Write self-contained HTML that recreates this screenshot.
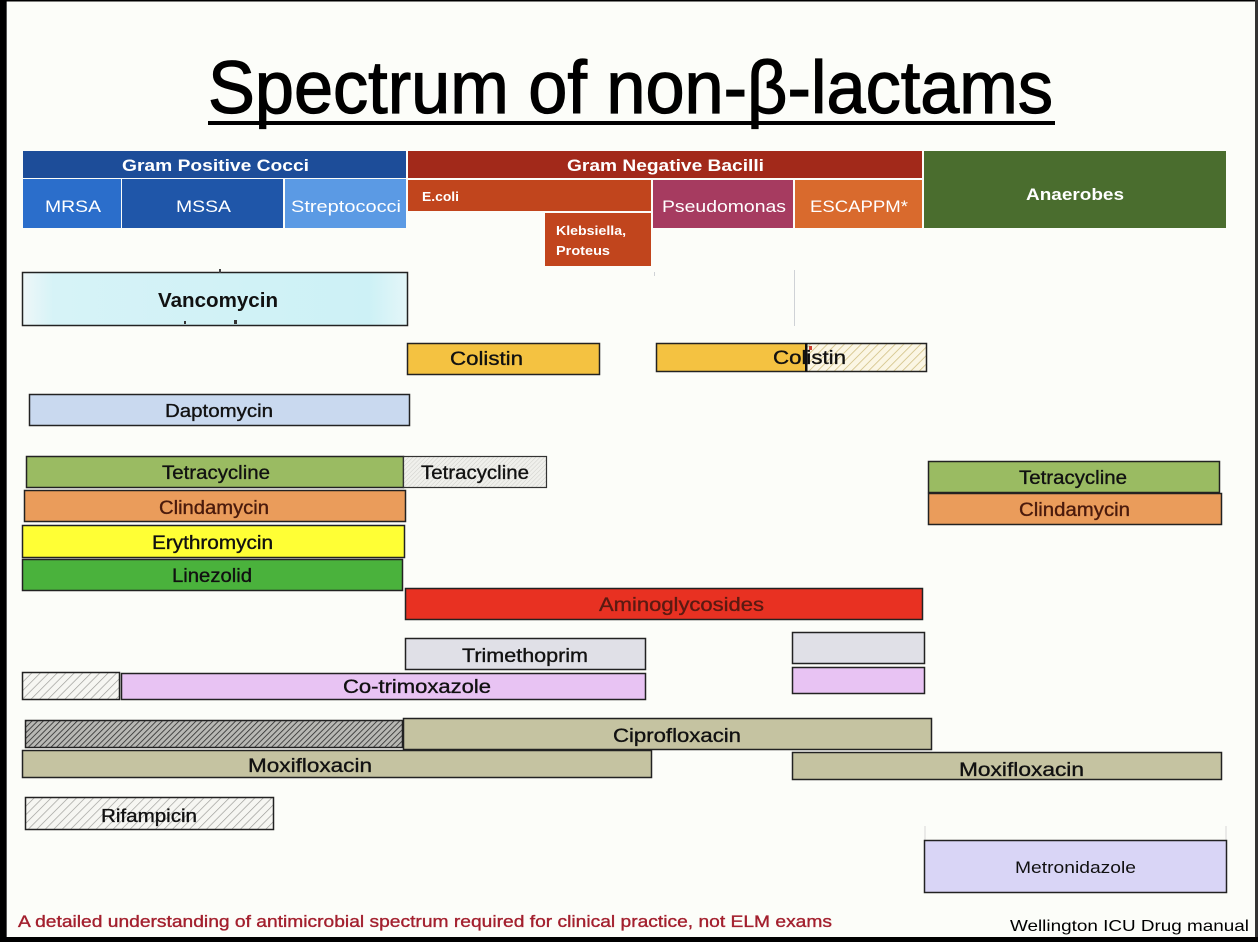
<!DOCTYPE html>
<html><head><meta charset="utf-8"><style>
html,body{margin:0;padding:0;background:#fcfdf9;}
svg{display:block;}
text{font-family:"Liberation Sans",Arial,sans-serif;}
.lbl{stroke:currentColor;stroke-width:0.35;}
</style></head><body>
<svg width="1258" height="942" viewBox="0 0 1258 942" xmlns="http://www.w3.org/2000/svg">
<defs>
<pattern id="hLight" patternUnits="userSpaceOnUse" width="6" height="6" patternTransform="rotate(45)">
<rect width="6" height="6" fill="#f6f6f2"/><line x1="0" y1="0" x2="0" y2="6" stroke="#9a9a96" stroke-width="1.3"/></pattern>
<pattern id="hDark" patternUnits="userSpaceOnUse" width="4" height="4" patternTransform="rotate(45)">
<rect width="4" height="4" fill="#b8b8b4"/><line x1="0" y1="0" x2="0" y2="4" stroke="#2a2a2a" stroke-width="1.6"/></pattern>
<pattern id="hFine" patternUnits="userSpaceOnUse" width="3" height="3" patternTransform="rotate(45)">
<rect width="3" height="3" fill="#f0f0ec"/><line x1="0" y1="0" x2="0" y2="3" stroke="#cfcfca" stroke-width="1"/></pattern>
<pattern id="hYel" patternUnits="userSpaceOnUse" width="6" height="6" patternTransform="rotate(45)">
<rect width="6" height="6" fill="#fbf6e4"/><line x1="0" y1="0" x2="0" y2="6" stroke="#cdbb7a" stroke-width="1.5"/></pattern>
<linearGradient id="vanc" x1="0" x2="1" y1="0" y2="0">
<stop offset="0" stop-color="#eef7f8"/><stop offset="0.08" stop-color="#d6f3f7"/><stop offset="0.9" stop-color="#cdf1f6"/><stop offset="1" stop-color="#e4f6f8"/></linearGradient>
</defs>

<rect x="0" y="0" width="1258" height="942" fill="#fcfdf9"/>

<!-- Title -->
<text x="208" y="113" font-size="74" fill="#000" stroke="#000" stroke-width="1.2" textLength="845" lengthAdjust="spacingAndGlyphs">Spectrum of non-β-lactams</text>
<rect x="208" y="121" width="847" height="4" fill="#000"/>

<!-- Header -->
<rect x="23" y="151" width="383" height="27" fill="#1d4d99"/>
<text x="122" y="171" font-size="17" font-weight="bold" fill="#fff" textLength="187" lengthAdjust="spacingAndGlyphs">Gram Positive Cocci</text>
<rect x="23" y="179" width="98" height="49" fill="#2b6ecb"/>
<rect x="122" y="179" width="161" height="49" fill="#1f56a9"/>
<rect x="285" y="179" width="121" height="49" fill="#5b9ae4"/>
<text x="45" y="212" font-size="17" fill="#fff" textLength="56" lengthAdjust="spacingAndGlyphs">MRSA</text>
<text x="176" y="212" font-size="17" fill="#fff" textLength="55" lengthAdjust="spacingAndGlyphs">MSSA</text>
<text x="291" y="212" font-size="17" fill="#fff" textLength="110" lengthAdjust="spacingAndGlyphs">Streptococci</text>

<rect x="408" y="151" width="514" height="27" fill="#a2291a"/>
<text x="567" y="171" font-size="17" font-weight="bold" fill="#fff" textLength="197" lengthAdjust="spacingAndGlyphs">Gram Negative Bacilli</text>
<rect x="408" y="180" width="243" height="31" fill="#c1451d"/>
<text x="422" y="201" font-size="13" font-weight="bold" fill="#fff" textLength="37" lengthAdjust="spacingAndGlyphs">E.coli</text>
<rect x="545" y="213" width="106" height="53" fill="#c1451d"/>
<text x="556" y="235" font-size="13" font-weight="bold" fill="#fff" textLength="70" lengthAdjust="spacingAndGlyphs">Klebsiella,</text>
<text x="556" y="255" font-size="13" font-weight="bold" fill="#fff" textLength="54" lengthAdjust="spacingAndGlyphs">Proteus</text>
<rect x="653" y="180" width="140" height="48" fill="#a63b60"/>
<text x="662" y="212" font-size="17" fill="#fff" textLength="124" lengthAdjust="spacingAndGlyphs">Pseudomonas</text>
<rect x="795" y="180" width="127" height="48" fill="#d96a2d"/>
<text x="810" y="212" font-size="17" fill="#fff" textLength="98" lengthAdjust="spacingAndGlyphs">ESCAPPM*</text>

<rect x="924" y="151" width="302" height="77" fill="#4a6d2e"/>
<text x="1026" y="200" font-size="17" font-weight="bold" fill="#fff" textLength="98" lengthAdjust="spacingAndGlyphs">Anaerobes</text>

<!-- faint guide lines -->
<line x1="794.5" y1="270" x2="794.5" y2="326" stroke="#cfd2d6" stroke-width="1"/>
<line x1="654.5" y1="272" x2="654.5" y2="276" stroke="#cfd2d6" stroke-width="1"/>
<line x1="925" y1="826" x2="925" y2="840" stroke="#d8d8d8" stroke-width="1"/>
<line x1="1226" y1="826" x2="1226" y2="840" stroke="#d8d8d8" stroke-width="1"/>

<!-- Vancomycin -->
<rect x="22.5" y="272.5" width="385" height="53" fill="url(#vanc)" stroke="#222" stroke-width="1.5"/>
<text x="158" y="307" font-size="20" font-weight="bold" fill="#111" textLength="120" lengthAdjust="spacingAndGlyphs">Vancomycin</text>
<rect x="219" y="269" width="2" height="4" fill="#444"/>
<rect x="184" y="321" width="2" height="3" fill="#333"/>
<rect x="234" y="320" width="3" height="4" fill="#333"/>

<!-- Colistin -->
<rect x="407.5" y="343.5" width="192" height="31" fill="#f4c241" stroke="#222" stroke-width="1.5"/>
<text class="lbl" x="450" y="365" font-size="19" fill="#111" color="#111" textLength="73" lengthAdjust="spacingAndGlyphs">Colistin</text>
<rect x="656.5" y="343.5" width="150" height="28" fill="#f4c241"/>
<rect x="806.5" y="343.5" width="120" height="28" fill="url(#hYel)"/>
<rect x="656.5" y="343.5" width="270" height="28" fill="none" stroke="#222" stroke-width="1.5"/>
<text class="lbl" x="773" y="364" font-size="19" fill="#111" color="#111" textLength="73" lengthAdjust="spacingAndGlyphs">Colistin</text>
<rect x="805" y="343" width="2.5" height="29" fill="#111"/>
<rect x="809" y="346" width="3" height="4" fill="#d04030"/>

<!-- Daptomycin -->
<rect x="29.5" y="394.5" width="380" height="31" fill="#c9d9ef" stroke="#222" stroke-width="1.5"/>
<text class="lbl" x="165" y="417" font-size="18" fill="#111" color="#111" textLength="108" lengthAdjust="spacingAndGlyphs">Daptomycin</text>

<!-- Tetracycline etc left -->
<rect x="26.5" y="456.5" width="377" height="31" fill="#9abb62" stroke="#222" stroke-width="1.5"/>
<text class="lbl" x="162" y="479" font-size="19" fill="#111" color="#111" textLength="108" lengthAdjust="spacingAndGlyphs">Tetracycline</text>
<rect x="403.5" y="456.5" width="143" height="31" fill="url(#hFine)" stroke="#333" stroke-width="1.2"/>
<text class="lbl" x="421" y="479" font-size="19" fill="#111" color="#111" textLength="108" lengthAdjust="spacingAndGlyphs">Tetracycline</text>
<rect x="24.5" y="490.5" width="381" height="31" fill="#ea9c5b" stroke="#222" stroke-width="1.5"/>
<text class="lbl" x="159" y="514" font-size="19" fill="#4a1a0c" color="#4a1a0c" textLength="110" lengthAdjust="spacingAndGlyphs">Clindamycin</text>
<rect x="22.5" y="525.5" width="382" height="32" fill="#ffff35" stroke="#222" stroke-width="1.5"/>
<text class="lbl" x="152" y="549" font-size="19" fill="#111" color="#111" textLength="121" lengthAdjust="spacingAndGlyphs">Erythromycin</text>
<rect x="22.5" y="559.5" width="380" height="31" fill="#4ab23c" stroke="#222" stroke-width="1.5"/>
<text class="lbl" x="172" y="582" font-size="19" fill="#111" color="#111" textLength="80" lengthAdjust="spacingAndGlyphs">Linezolid</text>

<!-- right Tetracycline / Clindamycin -->
<rect x="928.5" y="461.5" width="291" height="31" fill="#9abb62" stroke="#222" stroke-width="1.5"/>
<text class="lbl" x="1019" y="484" font-size="19" fill="#111" color="#111" textLength="108" lengthAdjust="spacingAndGlyphs">Tetracycline</text>
<rect x="928.5" y="493.5" width="293" height="31" fill="#ea9c5b" stroke="#222" stroke-width="1.5"/>
<text class="lbl" x="1019" y="516" font-size="19" fill="#4a1a0c" color="#4a1a0c" textLength="111" lengthAdjust="spacingAndGlyphs">Clindamycin</text>

<!-- Aminoglycosides -->
<rect x="405.5" y="588.5" width="517" height="31" fill="#e83122" stroke="#222" stroke-width="1.5"/>
<text class="lbl" x="599" y="611" font-size="19" fill="#5a1a12" color="#5a1a12" textLength="165" lengthAdjust="spacingAndGlyphs">Aminoglycosides</text>

<!-- Trimethoprim / Co-trimoxazole -->
<rect x="405.5" y="638.5" width="240" height="31" fill="#e0e0e7" stroke="#222" stroke-width="1.5"/>
<text class="lbl" x="462" y="662" font-size="19" fill="#111" color="#111" textLength="126" lengthAdjust="spacingAndGlyphs">Trimethoprim</text>
<rect x="792.5" y="632.5" width="132" height="31" fill="#e0e0e7" stroke="#222" stroke-width="1.5"/>
<rect x="792.5" y="667.5" width="132" height="26" fill="#e8c3f3" stroke="#222" stroke-width="1.5"/>
<rect x="22.5" y="672.5" width="97" height="27" fill="url(#hLight)" stroke="#222" stroke-width="1.5"/>
<rect x="121.5" y="673.5" width="524" height="26" fill="#e8c3f3" stroke="#222" stroke-width="1.5"/>
<text class="lbl" x="343" y="693" font-size="19" fill="#111" color="#111" textLength="148" lengthAdjust="spacingAndGlyphs">Co-trimoxazole</text>

<!-- Fluoroquinolones -->
<rect x="25.5" y="720.5" width="377" height="27" fill="url(#hDark)" stroke="#222" stroke-width="1.5"/>
<rect x="403.5" y="718.5" width="528" height="31" fill="#c5c3a1" stroke="#222" stroke-width="1.5"/>
<text class="lbl" x="613" y="742" font-size="19" fill="#111" color="#111" textLength="128" lengthAdjust="spacingAndGlyphs">Ciprofloxacin</text>
<rect x="22.5" y="750.5" width="629" height="27" fill="#c5c3a1" stroke="#222" stroke-width="1.5"/>
<text class="lbl" x="248" y="772" font-size="19" fill="#111" color="#111" textLength="124" lengthAdjust="spacingAndGlyphs">Moxifloxacin</text>
<rect x="792.5" y="752.5" width="429" height="27" fill="#c5c3a1" stroke="#222" stroke-width="1.5"/>
<text class="lbl" x="959" y="776" font-size="19" fill="#111" color="#111" textLength="125" lengthAdjust="spacingAndGlyphs">Moxifloxacin</text>

<!-- Rifampicin -->
<rect x="25.5" y="797.5" width="248" height="32" fill="url(#hLight)" stroke="#222" stroke-width="1.5"/>
<text class="lbl" x="101" y="822" font-size="18" fill="#111" color="#111" textLength="96" lengthAdjust="spacingAndGlyphs">Rifampicin</text>

<!-- Metronidazole -->
<rect x="924.5" y="840.5" width="302" height="52" fill="#d9d5f6" stroke="#222" stroke-width="1.5"/>
<text x="1015" y="873" font-size="17" fill="#111" textLength="121" lengthAdjust="spacingAndGlyphs">Metronidazole</text>

<!-- Footer -->
<text class="lbl" x="18" y="927" font-size="17" fill="#a3202e" color="#a3202e" textLength="814" lengthAdjust="spacingAndGlyphs">A detailed understanding of antimicrobial spectrum required for clinical practice, not ELM exams</text>
<text x="1010" y="931" font-size="16" fill="#000" textLength="239" lengthAdjust="spacingAndGlyphs">Wellington ICU Drug manual</text>

<!-- frame -->
<rect x="0" y="0" width="6" height="942" fill="#000"/>
<rect x="6" y="0" width="1" height="942" fill="#555"/>
<rect x="0" y="0" width="1258" height="1.5" fill="#000"/>
<rect x="1255" y="0" width="3" height="942" fill="#333"/>
<rect x="0" y="937" width="1258" height="5" fill="#000"/>
</svg>
</body></html>
